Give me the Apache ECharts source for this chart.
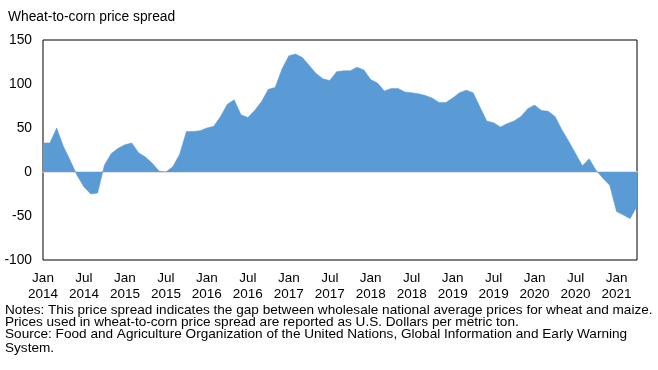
<!DOCTYPE html>
<html>
<head>
<meta charset="utf-8">
<script src="https://cdn.jsdelivr.net/npm/echarts@6/dist/echarts.min.js"></script>
<style>
html,body{margin:0;padding:0;background:#fff;}
#c{width:658px;height:370px;}
</style>
</head>
<body>
<div id="c"></div>
<script>
const monthNames = ['Jan','Feb','Mar','Apr','May','Jun','Jul','Aug','Sep','Oct','Nov','Dec'];
const years = [2014,2015,2016,2017,2018,2019,2020,2021];
const categories = [];
years.forEach(y => monthNames.forEach(m => categories.push(m + ' ' + y)));
categories.length = 88; // Jan 2014 .. Apr 2021

const spread = [
  33, 33, 50, 29, 13, -4, -17, -25, -24, 8, 21, 27,
  31, 33, 22, 17, 10, 1, 0, 6, 20, 46, 46, 47,
  50, 52, 63, 77, 82, 65, 62, 70, 80, 94, 96, 117,
  132, 134, 130, 121, 112, 106, 104, 114, 115, 115, 119, 116,
  105, 101, 92, 95, 95, 91, 90, 89, 87, 84, 79, 79,
  84, 90, 93, 90, 74, 58, 56, 51, 55, 58, 63, 72,
  76, 70, 69, 63, 48, 35, 21, 7, 15, 2, -7, -15,
  -45, -49, -53, -39
];

const yTicks = { min: -100, max: 150, interval: 50 };
const titleText = 'Wheat-to-corn price spread';
const notes = [
  'Notes: This price spread indicates the gap between wholesale national average prices for wheat and maize.',
  'Prices used in wheat-to-corn price spread are reported as U.S. Dollars per metric ton.',
  'Source: Food and Agriculture Organization of the United Nations, Global Information and Early Warning',
  'System.'
];
const noteY = [311, 323, 335, 349];

const font = '"Liberation Sans", Arial, sans-serif';
const chart = echarts.init(document.getElementById('c'), null, {renderer: 'canvas'});
chart.setOption({
  animation: false,
  textStyle: { fontFamily: font },
  title: {
    text: titleText, left: 3, top: 5,
    textStyle: { fontFamily: font, fontSize: 13.8, fontWeight: 'normal', color: '#000' }
  },
  grid: {
    left: 43, right: 21, top: 40, bottom: 110,
    show: true, borderColor: '#000', borderWidth: 1, backgroundColor: 'transparent'
  },
  xAxis: {
    type: 'category', data: categories, boundaryGap: false,
    axisLine: { show: true, onZero: true, lineStyle: { color: '#D9D9D9', width: 1.5 } },
    axisTick: { show: false },
    splitLine: { show: false },
    axisLabel: {
      interval: 5, margin: 10, color: '#000', fontSize: 13.5, fontFamily: font, lineHeight: 16,
      formatter: v => v.replace(' ', '\n')
    }
  },
  yAxis: {
    type: 'value', min: yTicks.min, max: yTicks.max, interval: yTicks.interval,
    axisLine: { show: false }, axisTick: { show: false }, splitLine: { show: false },
    axisLabel: { color: '#000', fontSize: 13.8, fontFamily: font, margin: 11 }
  },
  series: [{
    type: 'line', data: spread, symbol: 'none',
    lineStyle: { width: 0.5, color: '#5B9BD5' },
    areaStyle: { color: '#5B9BD5', opacity: 1 },
    z: 1
  }],
  graphic: notes.map((t, i) => ({
    type: 'text', left: 5, top: noteY[i] - 8,
    style: { text: t, fontFamily: font, fontSize: 13.6, fill: '#000' }
  }))
});
</script>
</body>
</html>
